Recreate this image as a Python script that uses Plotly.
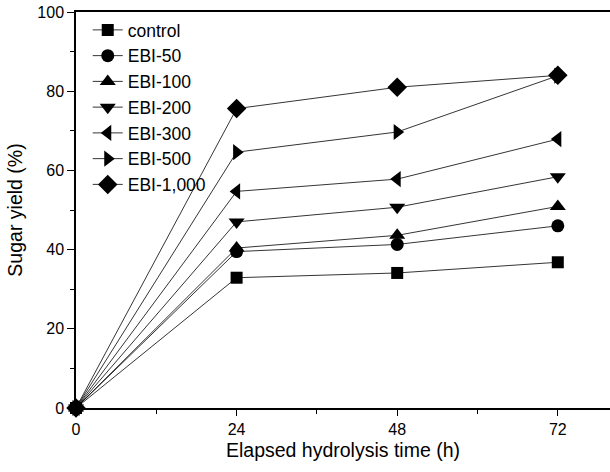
import plotly.graph_objects as go

times = [0, 24, 48, 72]
series_names = ["control", "EBI-50", "EBI-100", "EBI-200", "EBI-300", "EBI-500", "EBI-1,000"]
control = [0, 32.9, 34.1, 36.8]
ebi_50 = [0, 39.5, 41.3, 46.0]
ebi_100 = [0, 40.4, 43.6, 50.9]
ebi_200 = [0, 47.0, 50.7, 58.4]
ebi_300 = [0, 54.7, 57.8, 67.9]
ebi_500 = [0, 64.6, 69.7, 83.9]
ebi_1000 = [0, 75.6, 81.0, 84.0]
x_ticks = [0, 24, 48, 72]
y_ticks = [0, 20, 40, 60, 80, 100]

values = [control, ebi_50, ebi_100, ebi_200, ebi_300, ebi_500, ebi_1000]
symbols = ["square", "circle", "triangle-up", "triangle-down", "triangle-left", "triangle-right", "diamond"]
sizes = [12, 13, 14, 14, 14, 14, 15]

fig = go.Figure()
for name, vals, sym, sz in zip(series_names, values, symbols, sizes):
    fig.add_trace(go.Scatter(
        x=times, y=vals, name=name, mode="lines+markers",
        line=dict(color="black", width=0.8),
        marker=dict(symbol=sym, size=sz, color="black"),
        cliponaxis=False,
    ))

font = "Liberation Sans, Arial, sans-serif"
fig.update_layout(
    width=610, height=472,
    margin=dict(l=76, r=0, t=12, b=64, autoexpand=False),
    paper_bgcolor="white", plot_bgcolor="white",
    font=dict(family=font, color="black", size=16),
    showlegend=True,
    legend=dict(x=0.022, y=1.0, xanchor="left", yanchor="top",
                font=dict(size=17.5, family=font), bgcolor="rgba(0,0,0,0)",
                tracegroupgap=0, itemwidth=30),
    xaxis=dict(
        range=[0, 79.8], tickvals=x_ticks, ticktext=[str(t) for t in x_ticks],
        showline=True, linecolor="black", linewidth=1.5, mirror=True,
        ticks="outside", ticklen=6, tickwidth=1.2, tickcolor="black",
        minor=dict(dtick=12, tick0=0, ticks="outside", ticklen=4, tickwidth=1.2, tickcolor="black"),
        showgrid=False, zeroline=False, automargin=False,
        tickfont=dict(size=16),
        title=dict(text="Elapsed hydrolysis time (h)", font=dict(size=19.5), standoff=6),
    ),
    yaxis=dict(
        range=[0, 100], tickvals=y_ticks,
        showline=True, linecolor="black", linewidth=1.5, mirror=False,
        ticks="outside", ticklen=7, tickwidth=1.2, tickcolor="black",
        minor=dict(dtick=10, tick0=0, ticks="outside", ticklen=4, tickwidth=1.2, tickcolor="black"),
        showgrid=False, zeroline=False, automargin=False,
        tickfont=dict(size=16),
        title=dict(text="Sugar yield (%)", font=dict(size=19.5), standoff=10),
    ),
)

fig.write_html("out.html", config={"displayModeBar": False},
               post_script="document.body.style.margin='0px';document.body.style.overflow='hidden';")
